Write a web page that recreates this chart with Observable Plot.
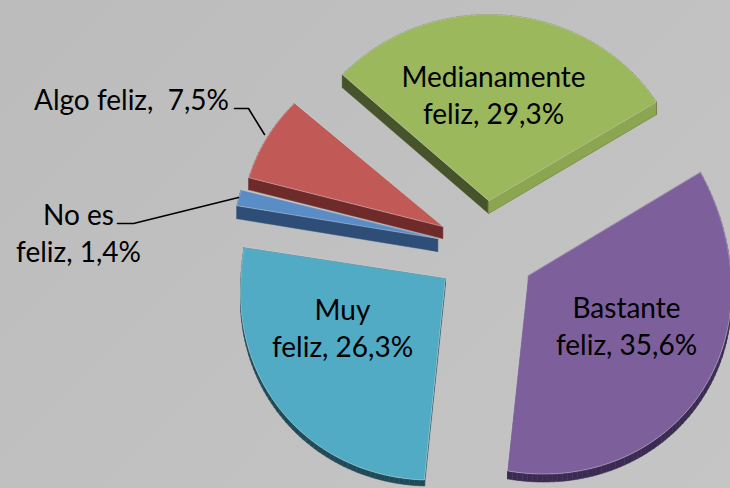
<!DOCTYPE html>
<html>
<head>
<meta charset="utf-8">
<script src="https://cdn.jsdelivr.net/npm/d3@7"></script>
<script src="https://cdn.jsdelivr.net/npm/@observablehq/plot@0.6"></script>
<style>
html,body{margin:0;padding:0;background:#c0c0c0;overflow:hidden}
svg{display:block}
</style>
</head>
<body>
<div id="chart"></div>
<script>
// Data, clockwise from the left edge of the green slice
const categories = ["Medianamente feliz", "Bastante feliz", "Muy feliz", "No es feliz", "Algo feliz"];
const values = [29.3, 35.6, 26.3, 1.4, 7.5];
const firstAngleDeg = -47.5;

// Appearance
const topColors = ["#9bb85c", "#7d5f9b", "#51abc5", "#5a8cc6", "#c15a57"];
const wallColors = ["#47532a", "#3b2a52", "#1f4a58", "#2e4e77", "#6f2a2a"];
const endWallColors = ["#8ba551", null, null, null, null];

// Exploded, perspective-squashed layout of each slice
const apexX = [488, 528, 445, 437, 442];
const apexY = [200, 275, 278, 238, 226];
const radiusX = [198, 203, 205, 204, 201];
const radiusUp = [186, 218, 251, 180, 182];
const radiusDown = [186, 198, 201, 186, 186];
const skew = [0, 15, -15, 0, 0];
const depth = [13, 8, 6, 13, 12];

const labelLines = ["Medianamente\nfeliz, 29,3%", "Bastante\nfeliz, 35,6%", "Muy\nfeliz, 26,3%", "No es\nfeliz, 1,4%", "Algo feliz,  7,5%"];
const labelX = [493, 626, 342, 78, 131];
const labelY = [93, 324, 326, 231, 98];

const leaderX = [[234, 248, 264], [117, 133, 238]];
const leaderY = [[108, 108, 134], [223, 223, 197]];

const arcs = d3.pie().sort(null)
  .startAngle(firstAngleDeg * Math.PI / 180)
  .endAngle(firstAngleDeg * Math.PI / 180 + 2 * Math.PI)(values);

function pointAt(i, a) {
  const c = Math.cos(a), s = Math.sin(a);
  return {x: apexX[i] + radiusX[i] * s, y: apexY[i] - c * (c > 0 ? radiusUp[i] : radiusDown[i]) + skew[i] * s};
}
function outline(i) {
  const pts = [{x: apexX[i], y: apexY[i]}];
  const n = Math.max(6, Math.ceil((arcs[i].endAngle - arcs[i].startAngle) * 40));
  for (let k = 0; k <= n; ++k) pts.push(pointAt(i, arcs[i].startAngle + (arcs[i].endAngle - arcs[i].startAngle) * k / n));
  return pts;
}
const faces = categories.map((_, i) => outline(i));

// Side wall: one quad per outline edge, extruded downward
function wallQuads(i) {
  const p = faces[i], d = depth[i], out = [];
  p.forEach((a, k) => {
    const b = p[(k + 1) % p.length];
    out.push([a, b, {x: b.x, y: b.y + d}, {x: a.x, y: a.y + d}].map(q => ({...q, q: k})));
  });
  return out.flat();
}
function endWall(i) {
  const p = faces[i], a = p[0], b = p[p.length - 1], d = depth[i];
  return [a, b, {x: b.x, y: b.y + d}, {x: a.x, y: a.y + d}];
}

const marks = [];
const drawOrder = [0, 1, 2, 3, 4];
for (const i of drawOrder) {
  marks.push(Plot.line(wallQuads(i), {x: "x", y: "y", z: "q", fill: wallColors[i], stroke: wallColors[i], strokeWidth: 0.5, curve: "linear-closed"}));
  if (endWallColors[i]) marks.push(Plot.line(endWall(i), {x: "x", y: "y", fill: endWallColors[i], stroke: endWallColors[i], strokeWidth: 0.5, curve: "linear-closed"}));
  marks.push(Plot.line(faces[i], {x: "x", y: "y", fill: topColors[i], stroke: "#ffffff", strokeOpacity: 0.35, strokeWidth: 1, curve: "linear-closed"}));
}
leaderX.forEach((xs, j) => {
  marks.push(Plot.line(xs.map((x, k) => ({x, y: leaderY[j][k]})), {x: "x", y: "y", stroke: "#000", strokeWidth: 1.6, curve: "linear"}));
});
marks.push(Plot.text(labelLines.map((t, i) => ({t, x: labelX[i], y: labelY[i]})), {
  x: "x", y: "y", text: "t", fill: "#000", fontSize: 28, lineHeight: 1.33, lineAnchor: "middle", textAnchor: "middle"
}));

const chart = Plot.plot({
  width: 730, height: 488,
  margin: 0,
  x: {domain: [0, 730], range: [0, 730], axis: null},
  y: {domain: [0, 488], range: [0, 488], axis: null},
  style: {background: "linear-gradient(135deg,#bcbcbc,#c5c5c5)", fontFamily: "Lato, Carlito, sans-serif"},
  marks
});
document.getElementById("chart").append(chart);
</script>
</body>
</html>
